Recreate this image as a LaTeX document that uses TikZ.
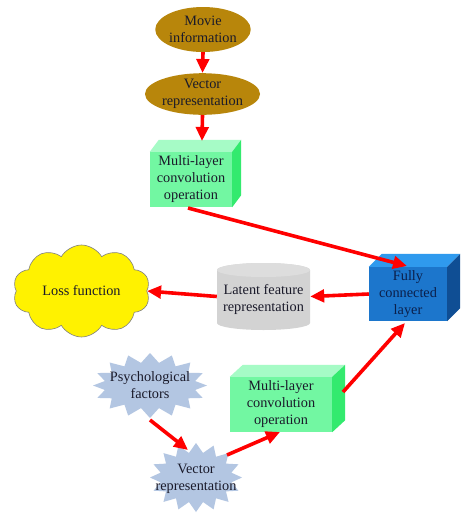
\documentclass[tikz,border=0pt]{standalone}
\usepackage{fontspec}
\setmainfont{Liberation Serif}
\usetikzlibrary{shapes.geometric,shapes.symbols,arrows.meta,calc}
\definecolor{brownell}{HTML}{B8860B}
\definecolor{txtdark}{HTML}{1A1A2A}
\definecolor{grfront}{HTML}{72F7A2}
\definecolor{grtop}{HTML}{A6FBC6}
\definecolor{grside}{HTML}{33EA6E}
\definecolor{blfront}{HTML}{1C76CC}
\definecolor{bltop}{HTML}{2F9AEE}
\definecolor{blside}{HTML}{0F4E94}
\definecolor{bltext}{HTML}{0B1F4A}
\definecolor{cylbody}{HTML}{D3D3D3}
\definecolor{cyltop}{HTML}{DDDDDD}
\definecolor{starfill}{HTML}{B3C6E2}
\definecolor{arrred}{HTML}{FF0000}
\newcommand{\mycube}[6]{%
  \fill[#5] (#1.north west) -- ++(#2,-#3) -- ($(#1.north east)+(#2,-#3)$) -- (#1.north east) -- cycle;
  \fill[#6] (#1.north east) -- ++(#2,-#3) -- ($(#1.south east)+(#2,-#3)$) -- (#1.south east) -- cycle;
}
% \mystar{cx}{cy}{outer rx}{outer ry}{inner rx}{inner ry}
\newcommand{\mystar}[6]{%
  \begin{scope}[shift={(#1,#2)}]
  \fill[starfill] (0:#3 and #4) \foreach \k in {0,...,15}{ -- ({\k*22.5}:#3 and #4) -- ({\k*22.5+11.25}:#5 and #6)} -- cycle;
  \end{scope}
}
\begin{document}
\begin{tikzpicture}[x=1pt,y=-1pt,
  txt/.style={font=\fontsize{14.3}{17}\selectfont, text=txtdark, align=center, inner sep=0pt},
  brownnode/.style={txt, ellipse, fill=brownell},
  cubefront/.style={txt, rectangle},
  redarrow/.style={draw=arrred, line width=3.6pt, -{Triangle[length=14pt,width=12.5pt]}}
]
\useasboundingbox (0,0) rectangle (474,523);
\fill[white] (0,0) rectangle (474,523);

% ellipses
\node[brownnode, minimum width=92pt, minimum height=45pt] (mov) at (203,29.5) {Movie\\information};
\node[brownnode, minimum width=115pt, minimum height=38pt] (vec1) at (202.5,94) {Vector\\representation};

% green cube 1
\node[cubefront, fill=grfront, minimum width=82pt, minimum height=55pt] (cubeA) at (191,179.5) {Multi-layer\\convolution\\operation};
\mycube{cubeA}{9}{12}{grfront}{grtop}{grside}
\coordinate (cubeAtop) at (202,141);

% blue cube
\node[cubefront, fill=blfront, text=bltext, minimum width=78pt, minimum height=54pt] (fc) at (408,294) {Fully\\connected\\layer};
\mycube{fc}{13}{13}{blfront}{bltop}{blside}
\coordinate (fctop) at (407,266);

% cylinder
\node[txt, minimum width=93pt, minimum height=67pt] (cyl) at (263.5,296.5) {};
\fill[cylbody] (217,270) -- (217,323) arc[start angle=180, end angle=360, x radius=46.5pt, y radius=7pt] -- (310,270) arc[start angle=0, end angle=180, x radius=46.5pt, y radius=7pt] -- cycle;
\fill[cyltop] (263.5,270) ellipse[x radius=46.5pt, y radius=7pt];
\node[txt] at (263.5,299) {Latent feature\\representation};

% cloud
\node[txt, cloud, cloud puffs=10, cloud puff arc=120, aspect=1.5, fill=yellow, draw=gray, line width=0.6pt, minimum width=137pt, minimum height=92pt] (loss) at (81.5,291) {Loss function};

% starbursts
\mystar{150}{385.5}{57}{32.5}{46}{23}
\node[txt] (psy) at (150,385.5) {Psychological\\factors};
\mystar{196}{477.5}{46}{34.5}{36}{25}
\node[txt] (vec2) at (196,479) {Vector\\representation};

% green cube 2
\node[cubefront, fill=grfront, minimum width=102pt, minimum height=55pt] (cubeB) at (281,404.5) {Multi-layer\\convolution\\operation};
\mycube{cubeB}{13}{12}{grfront}{grtop}{grside}

% connectors
\draw[redarrow] (mov.south) -- (vec1.north);
\draw[redarrow] (vec1.south) -- (cubeAtop);
\coordinate (cubeAout) at (188,208);
\draw[redarrow] (cubeAout) -- (fctop);
\draw[redarrow] (fc.west) -- (cyl.east);
\draw[redarrow] (cyl.west) -- (loss.east);
\coordinate (psyout) at (150,420);
\coordinate (vec2in) at (188,450);
\draw[redarrow] (psyout) -- (vec2in);
\coordinate (vec2out) at (227,455);
\coordinate (cubeBin) at (280,432);
\draw[redarrow] (vec2out) -- (cubeBin);
\coordinate (cubeBout) at (343,392);
\coordinate (fcin) at (405,323);
\draw[redarrow] (cubeBout) -- (fcin);
\end{tikzpicture}
\end{document}
